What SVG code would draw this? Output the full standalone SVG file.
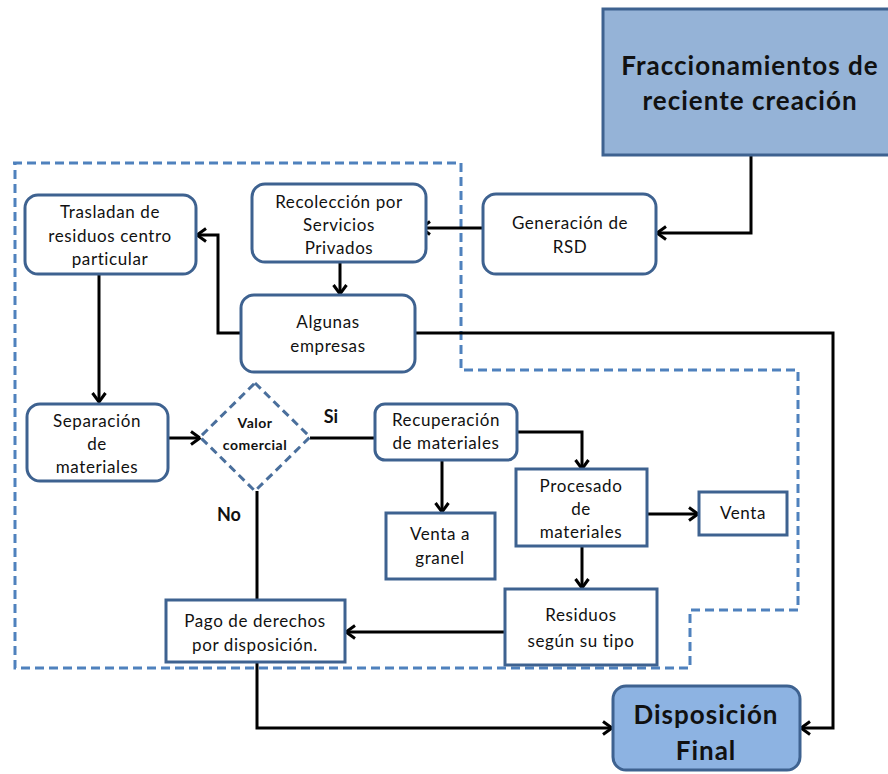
<svg xmlns="http://www.w3.org/2000/svg" width="888" height="774" viewBox="0 0 888 774">
<style>
.box{fill:#ffffff;stroke:#3e6290;stroke-width:3}
.big{fill:#95b3d7;stroke:#3e6290;stroke-width:3}
.t{font-family:Lato,"Open Sans",sans-serif;font-size:17px;letter-spacing:0.6px;fill:#111;text-anchor:middle}
.tb{font-family:Lato,"Open Sans",sans-serif;font-weight:bold;fill:#111;text-anchor:middle}
.c{fill:none;stroke:#000;stroke-width:3}
.dash{fill:none;stroke:#4f81bd;stroke-width:3;stroke-dasharray:9,5}
</style>
<defs>
<marker id="ar" markerUnits="userSpaceOnUse" markerWidth="14" markerHeight="16" refX="11" refY="8" orient="auto">
<path d="M2,1.5 L11,8 L2,14.5" fill="none" stroke="#000" stroke-width="3"/>
</marker>
</defs>
<polygon class="dash" points="13,163 461,163 461,370 798,370 798,610 690,610 690,668 15,668 15,163"/>
<g id="connectors">
<path class="c" d="M751,155 V233 H657" marker-end="url(#ar)"/>
<path class="c" d="M483,228 H421" marker-end="url(#ar)"/>
<path class="c" d="M340,262 V294" marker-end="url(#ar)"/>
<path class="c" d="M241,333 H218 V235 H197" marker-end="url(#ar)"/>
<path class="c" d="M415,333 H833 V728 H801" marker-end="url(#ar)"/>
<path class="c" d="M99,274 V402" marker-end="url(#ar)"/>
<path class="c" d="M168,438 H200" marker-end="url(#ar)"/>
<path class="c" d="M310,438 H375"/>
<path class="c" d="M442,460 V512" marker-end="url(#ar)"/>
<path class="c" d="M516,432 H582 V469" marker-end="url(#ar)"/>
<path class="c" d="M647,514 H698" marker-end="url(#ar)"/>
<path class="c" d="M582,546 V588" marker-end="url(#ar)"/>
<path class="c" d="M505,632 H346" marker-end="url(#ar)"/>
<path class="c" d="M257,491 V600"/>
<path class="c" d="M257,662 V728 H612" marker-end="url(#ar)"/>
<text class="tb" x="331" y="423" font-size="18">Si</text>
<text class="tb" x="229" y="521" font-size="18">No</text>
</g>
<g id="fraccionamientos">
<rect class="big" x="603" y="9" width="295" height="146"/>
<text class="tb" x="750" y="75" font-size="26" letter-spacing="1">Fraccionamientos de</text>
<text class="tb" x="750" y="110" font-size="26" letter-spacing="1">reciente creación</text>
</g>
<g id="generacion">
<rect class="box" x="483" y="194" width="173" height="80" rx="13"/>
<text class="t" x="570" y="229">Generación de</text>
<text class="t" x="570" y="253">RSD</text>
</g>
<g id="recoleccion">
<rect class="box" x="252" y="184" width="174" height="78" rx="13"/>
<text class="t" x="339" y="208">Recolección por</text>
<text class="t" x="339" y="231">Servicios</text>
<text class="t" x="339" y="254">Privados</text>
</g>
<g id="algunas">
<rect class="box" x="241" y="295" width="174" height="77" rx="13"/>
<text class="t" x="328" y="328">Algunas</text>
<text class="t" x="328" y="352">empresas</text>
</g>
<g id="trasladan">
<rect class="box" x="25" y="195" width="171" height="79" rx="13"/>
<text class="t" x="110" y="218">Trasladan de</text>
<text class="t" x="110" y="242">residuos centro</text>
<text class="t" x="110" y="265">particular</text>
</g>
<g id="separacion">
<rect class="box" x="27" y="404" width="141" height="77" rx="13"/>
<text class="t" x="97" y="427">Separación</text>
<text class="t" x="97" y="450">de</text>
<text class="t" x="97" y="473">materiales</text>
</g>
<g id="valor">
<polygon points="255,383 310,437 255,491 200,437" fill="#fff" stroke="#4a6f9c" stroke-width="3" stroke-dasharray="8,5"/>
<text class="tb" x="255" y="428" font-size="14" letter-spacing="0.5">Valor</text>
<text class="tb" x="255" y="450" font-size="14" letter-spacing="0.5">comercial</text>
</g>
<g id="recuperacion">
<rect class="box" x="375" y="404" width="142" height="56" rx="10"/>
<text class="t" x="446" y="426">Recuperación</text>
<text class="t" x="446" y="449">de materiales</text>
</g>
<g id="granel">
<rect class="box" x="386" y="513" width="109" height="66"/>
<text class="t" x="440" y="540">Venta a</text>
<text class="t" x="440" y="564">granel</text>
</g>
<g id="procesado">
<rect class="box" x="516" y="469" width="131" height="77"/>
<text class="t" x="581" y="492">Procesado</text>
<text class="t" x="581" y="515">de</text>
<text class="t" x="581" y="538">materiales</text>
</g>
<g id="venta">
<rect class="box" x="699" y="492" width="88" height="43"/>
<text class="t" x="743" y="519">Venta</text>
</g>
<g id="residuos">
<rect class="box" x="505" y="589" width="152" height="76"/>
<text class="t" x="581" y="621" font-size="18" letter-spacing="1">Residuos</text>
<text class="t" x="581" y="647" font-size="18" letter-spacing="1">según su tipo</text>
</g>
<g id="pago">
<rect class="box" x="166" y="600" width="179" height="62"/>
<text class="t" x="255" y="627" font-size="16" letter-spacing="0.8">Pago de derechos</text>
<text class="t" x="255" y="651" font-size="16" letter-spacing="0.8">por disposición.</text>
</g>
<g id="disposicion">
<rect x="613" y="686" width="187" height="84" rx="13" fill="#8db3e2" stroke="#3e6290" stroke-width="3"/>
<text class="tb" x="706" y="724" font-size="26" letter-spacing="1">Disposición</text>
<text class="tb" x="706" y="760" font-size="26" letter-spacing="1">Final</text>
</g>
</svg>
